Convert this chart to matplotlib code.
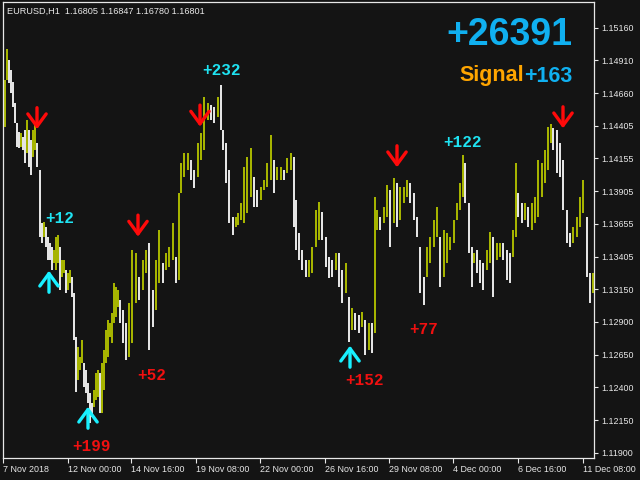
import numpy as np
import matplotlib
matplotlib.use("Agg")
import matplotlib.pyplot as plt
from matplotlib.ticker import FixedLocator, FixedFormatter

plt.rcParams["font.family"] = ["Liberation Sans", "DejaVu Sans"]

# hourly bars, sampled every few hours (bar index from chart start)
bar_idx = [
    1, 3, 5, 7, 9, 11, 13, 15, 17, 19, 21, 23, 25, 27, 29, 31, 33, 35, 37,
    38, 40, 42, 44, 46, 48, 50, 52, 54, 56, 58, 60, 62, 64, 66, 68, 70, 72, 74,
    76, 78, 80, 82, 84, 86, 88, 90, 92, 94, 96, 98, 100, 102, 104, 106, 108,
    110, 112, 114, 116,
    118, 121, 124, 127, 130, 134, 137, 141, 144, 147, 151, 154, 157, 161, 164,
    167, 171, 174, 177, 179, 182, 186, 189, 192, 196, 199, 202, 206, 209, 212,
    216, 219, 221, 224, 227, 231, 234,
    236, 239, 242, 245, 249, 252, 255, 259, 262, 265, 269, 272, 275, 279, 282,
    285, 289, 292, 294, 297, 300, 304, 307, 310, 314, 317, 320, 324, 327, 330,
    334, 337, 340, 344, 347, 350,
    353, 357, 360, 363, 367, 370, 373, 375, 378, 382, 385, 388, 392, 395, 398,
    402, 405, 408, 412, 415, 418, 422, 425, 428, 432, 435, 438, 442, 445, 448,
    452, 455, 458, 461, 463, 467, 470,
    472, 475, 478, 481, 485, 488, 491, 495, 498, 501, 505, 508, 511, 514, 516,
    520, 523, 526, 530, 533, 536, 540, 543, 546, 549, 551, 555, 558, 561, 565,
    568, 571, 575, 578, 581, 585, 588, 591,
]

highs = [
    1.14552, 1.14759, 1.14997, 1.14912, 1.14836, 1.14744, 1.14582, 1.14429, 1.14360, 1.14352,
    1.14322, 1.14375, 1.14452, 1.14375, 1.14299, 1.14375, 1.14429, 1.14276, 1.14092, 1.14069,
    1.13662, 1.13670, 1.13631, 1.13555, 1.13509, 1.13478, 1.13455, 1.13555, 1.13570, 1.13478,
    1.13378, 1.13378, 1.13302, 1.13279, 1.13302, 1.13248, 1.13125, 1.12788, 1.12711, 1.12634,
    1.12765, 1.12588, 1.12535, 1.12435, 1.12358, 1.12282, 1.12381, 1.12512, 1.12535, 1.12512,
    1.12588, 1.12688, 1.12841, 1.12918, 1.12895, 1.12972, 1.13202, 1.13171, 1.13148,
    1.13072, 1.12995, 1.12895, 1.13048, 1.13455, 1.13432, 1.13248, 1.13378, 1.13455, 1.13509,
    1.13148, 1.13378, 1.13608, 1.13355, 1.13432, 1.13478, 1.13662, 1.13401, 1.13892, 1.14122,
    1.14199, 1.14199, 1.14145, 1.14069, 1.14276, 1.14352, 1.14628, 1.14582, 1.14567, 1.14552,
    1.14628, 1.14721, 1.14375, 1.14276, 1.14069, 1.13708, 1.13708,
    1.13739, 1.13815, 1.14092, 1.14168, 1.14237, 1.14015, 1.13915, 1.13938, 1.13992, 1.14122,
    1.14337, 1.14145, 1.14092, 1.14092, 1.14069, 1.14161, 1.14199, 1.14168, 1.13838, 1.13585,
    1.13455, 1.13378, 1.13378, 1.13478, 1.13762, 1.13823, 1.13746, 1.13555, 1.13401, 1.13378,
    1.13432, 1.13432, 1.13302, 1.13355, 1.13094, 1.13010,
    1.12972, 1.12956, 1.12979, 1.12918, 1.12895, 1.12895, 1.13862, 1.13762, 1.13708, 1.13785,
    1.13953, 1.13915, 1.14007, 1.13969, 1.13938, 1.13938, 1.13992, 1.13969, 1.13892, 1.13708,
    1.13478, 1.13248, 1.13478, 1.13555, 1.13685, 1.13785, 1.13555, 1.13608, 1.13585, 1.13555,
    1.13685, 1.13815, 1.13969, 1.14184, 1.14122, 1.13815, 1.13478,
    1.13432, 1.13455, 1.13378, 1.13355, 1.13455, 1.13593, 1.13555, 1.13509, 1.13509, 1.13509,
    1.13455, 1.13432, 1.13608, 1.14122, 1.13892, 1.13815, 1.13815, 1.13785, 1.13815, 1.13862,
    1.14145, 1.14122, 1.14222, 1.14398, 1.14421, 1.14391, 1.14375, 1.14276, 1.14145, 1.13762,
    1.13585, 1.13631, 1.13708, 1.13862, 1.13992, 1.13708, 1.13279, 1.13279,
]

lows = [
    1.14299, 1.14398, 1.14759, 1.14736, 1.14659, 1.14552, 1.14429, 1.14245, 1.14237, 1.14245,
    1.14222, 1.14122, 1.14199, 1.14092, 1.14030, 1.14168, 1.14222, 1.14092, 1.13862, 1.13555,
    1.13509, 1.13555, 1.13478, 1.13378, 1.13378, 1.13302, 1.13355, 1.13302, 1.13355, 1.13148,
    1.13248, 1.13279, 1.13125, 1.13148, 1.13202, 1.13094, 1.12765, 1.12366, 1.12458, 1.12535,
    1.12588, 1.12404, 1.12358, 1.12282, 1.12128, 1.12174, 1.12251, 1.12305, 1.12327, 1.12205,
    1.12205, 1.12381, 1.12588, 1.12634, 1.12788, 1.12742, 1.12895, 1.12941, 1.13018,
    1.12895, 1.12742, 1.12611, 1.12634, 1.12742, 1.13048, 1.13072, 1.13148, 1.13279, 1.12688,
    1.12864, 1.12995, 1.13202, 1.13202, 1.13302, 1.13325, 1.13378, 1.13202, 1.13225, 1.13892,
    1.14015, 1.14069, 1.13992, 1.13930, 1.14015, 1.14145, 1.14222, 1.14452, 1.14452, 1.14429,
    1.14475, 1.14375, 1.14222, 1.13969, 1.13662, 1.13570, 1.13631,
    1.13647, 1.13685, 1.13662, 1.13739, 1.13862, 1.13785, 1.13785, 1.13838, 1.13915, 1.13938,
    1.13992, 1.13892, 1.13992, 1.13992, 1.13992, 1.14046, 1.14069, 1.13631, 1.13455, 1.13378,
    1.13302, 1.13248, 1.13248, 1.13279, 1.13478, 1.13532, 1.13532, 1.13325, 1.13240, 1.13248,
    1.13302, 1.13171, 1.13048, 1.13125, 1.12749, 1.12841,
    1.12841, 1.12818, 1.12864, 1.12650, 1.12688, 1.12665, 1.12818, 1.13608, 1.13608, 1.13662,
    1.13708, 1.13478, 1.13662, 1.13631, 1.13685, 1.13815, 1.13862, 1.13815, 1.13685, 1.13555,
    1.13125, 1.13033, 1.13248, 1.13355, 1.13478, 1.13555, 1.13171, 1.13248, 1.13355, 1.13455,
    1.13509, 1.13685, 1.13762, 1.13862, 1.13815, 1.13432, 1.13171,
    1.13355, 1.13279, 1.13202, 1.13148, 1.13302, 1.13355, 1.13094, 1.13378, 1.13401, 1.13378,
    1.13225, 1.13202, 1.13401, 1.13555, 1.13708, 1.13662, 1.13685, 1.13631, 1.13608, 1.13662,
    1.13708, 1.13862, 1.13969, 1.14069, 1.14276, 1.14222, 1.14046, 1.14015, 1.13762, 1.13509,
    1.13478, 1.13509, 1.13555, 1.13631, 1.13739, 1.13248, 1.13048, 1.13125,
]

# signals
sell_bars = [35, 136, 198, 395, 561]
sell_prices = [1.14381, 1.13557, 1.14401, 1.14089, 1.14388]
buy_bars = [47, 86, 348]
buy_prices = [1.13296, 1.12253, 1.12721]

cyan_texts = ["+12", "+232", "+122"]
cyan_bars = [57.5, 219.5, 460]
cyan_prices = [1.13693, 1.14828, 1.14283]
red_texts = ["+199", "+52", "+152", "+77"]
red_bars = [89.5, 150, 363, 422]
red_prices = [1.11948, 1.12489, 1.12450, 1.12845]

ytick_labels = ["1.15160", "1.14910", "1.14660", "1.14405", "1.14155", "1.13905",
                "1.13655", "1.13405", "1.13150", "1.12900", "1.12650", "1.12400",
                "1.12150", "1.11900"]
xtick_bars = [1, 66, 129, 194, 258, 323, 387, 451, 516, 581]
xtick_labels = ["7 Nov 2018", "12 Nov 00:00", "14 Nov 16:00", "19 Nov 08:00",
                "22 Nov 00:00", "26 Nov 16:00", "29 Nov 08:00", "4 Dec 00:00",
                "6 Dec 16:00", "11 Dec 08:00"]

bg = "#141414"
fg = "#e8e8e8"
up_col = "#a6b400"
dn_col = "#e4e4e4"
cyan = "#1fe3f2"
red = "#f01010"
blue = "#10b0f0"

fig = plt.figure(figsize=(6.4, 4.8), dpi=100, facecolor=bg)
ax = fig.add_axes([2.5 / 640, 21.7 / 480, 591 / 640, 456.3 / 480], facecolor=bg)

x = np.array(bar_idx, dtype=float)
hi = np.array(highs)
lo = np.array(lows)
mid = (hi + lo) / 2
up = np.concatenate([[True], mid[1:] >= mid[:-1]])
gaps = np.diff(x, append=x[-1] + 3)
colors = [up_col if u else dn_col for u in up]
ax.bar(x, hi - lo, bottom=lo, width=np.minimum(gaps * 0.7, 2.3),
       color=colors, linewidth=0)

arrow_kw = dict(arrowstyle="->,head_length=0.45,head_width=0.33",
                lw=2.4, shrinkA=0, shrinkB=0, mutation_scale=20)
for b, p in zip(sell_bars, sell_prices):
    ax.annotate("", xy=(b, p), xytext=(0, 15.5), textcoords="offset points",
                arrowprops=dict(color="#ff0a0a", **arrow_kw))
for b, p in zip(buy_bars, buy_prices):
    ax.annotate("", xy=(b, p), xytext=(0, -15.5), textcoords="offset points",
                arrowprops=dict(color="#18f0ff", **arrow_kw))

for t, b, p in zip(cyan_texts, cyan_bars, cyan_prices):
    ax.text(b, p, t, color=cyan, fontsize=11.5, family="Liberation Mono",
            weight="bold", ha="center", va="center")
for t, b, p in zip(red_texts, red_bars, red_prices):
    ax.text(b, p, t, color=red, fontsize=11.5, family="Liberation Mono",
            weight="bold", ha="center", va="center")

ax.set_xlim(0.5, 591.5)
ax.set_ylim(1.11857, 1.15357)

ax.yaxis.tick_right()
ax.yaxis.set_major_locator(FixedLocator(np.linspace(1.15160, 1.11900, len(ytick_labels))))
ax.yaxis.set_major_formatter(FixedFormatter(ytick_labels))
ax.xaxis.set_major_locator(FixedLocator(xtick_bars))
ax.xaxis.set_major_formatter(FixedFormatter(xtick_labels))
ax.tick_params(axis="y", direction="out", length=3, width=0.8, colors=fg,
               labelsize=6.4, pad=2.5)
ax.tick_params(axis="x", direction="out", length=3.5, width=0.8, colors=fg,
               labelsize=6.4, pad=1.5)
for lbl in ax.get_xticklabels():
    lbl.set_horizontalalignment("left")
for s in ax.spines.values():
    s.set_color(fg)
    s.set_linewidth(0.9)

fig.text(7 / 640, 1 - 11 / 480, "EURUSD,H1  1.16805 1.16847 1.16780 1.16801",
         color=fg, fontsize=6.6, va="center", ha="left")
fig.text(572 / 640, 1 - 45 / 480, "+26391", color=blue, fontsize=27,
         weight="bold", ha="right", va="baseline")
score = fig.text(572 / 640, 1 - 81.5 / 480, "+163", color=blue, fontsize=15.5,
                 weight="bold", ha="right", va="baseline")
fig.canvas.draw()
left_edge = score.get_window_extent().x0 / fig.bbox.width
fig.text(left_edge, 1 - 81.5 / 480, "Signal", color="#ffa500", fontsize=15.5,
         weight="bold", ha="right", va="baseline")

fig.savefig("out.png", dpi=100, facecolor=bg)
